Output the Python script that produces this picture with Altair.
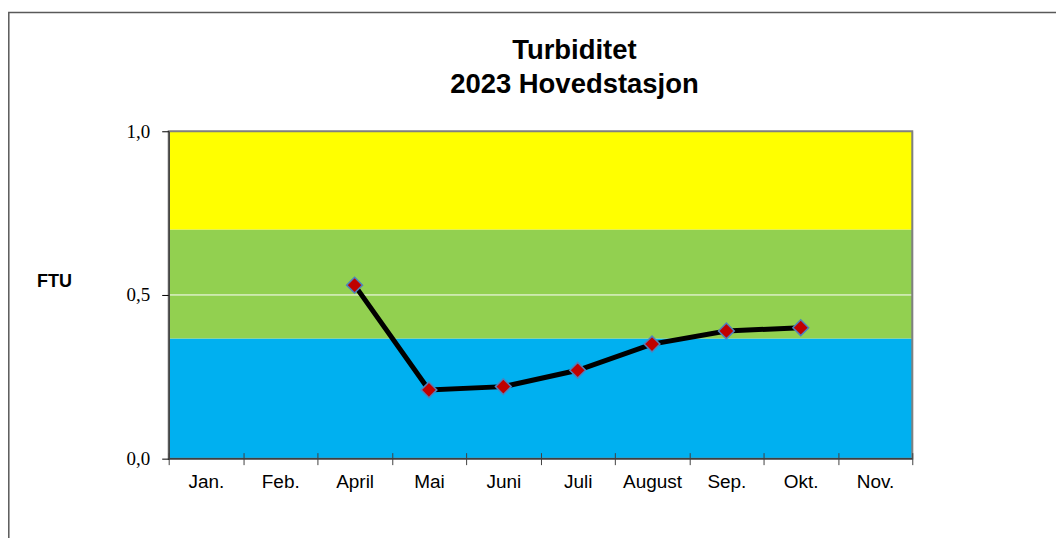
import altair as alt
import pandas as pd

months = ["Jan.", "Feb.", "April", "Mai", "Juni", "Juli", "August", "Sep.", "Okt.", "Nov."]
measured_months = ["April", "Mai", "Juni", "Juli", "August", "Sep.", "Okt."]
ftu_values = [0.53, 0.21, 0.22, 0.27, 0.35, 0.39, 0.40]

band_low = [0.0, 0.367, 0.70]
band_high = [0.367, 0.70, 1.0]
band_colors = ["#00B0F0", "#92D050", "#FFFF00"]

grid_values = [0.5]
y_ticks = [0.0, 0.5, 1.0]

title_line1 = "Turbiditet"
title_line2 = "2023 Hovedstasjon"

W, H = 745, 328

df = pd.DataFrame({"month": measured_months, "ftu": ftu_values})
bands = pd.DataFrame({"lo": band_low, "hi": band_high, "color": band_colors})
grid = pd.DataFrame({"g": grid_values})

xscale = alt.Scale(domain=months, paddingInner=0, paddingOuter=0)
yscale = alt.Scale(domain=[0, 1], nice=False)

band_layer = alt.Chart(bands).mark_rect().encode(
    x=alt.value(0), x2=alt.value(W),
    y=alt.Y("lo:Q", scale=yscale,
            axis=alt.Axis(values=y_ticks, grid=False, title="FTU",
                          labelExpr="replace(format(datum.value, '.1f'), '.', ',')",
                          labelFont="Liberation Serif", labelFontSize=19, labelColor="black",
                          labelPadding=12, tickSize=7, tickColor="black",
                          domainColor="#404040", domainWidth=1.5, zindex=1,
                          titleAngle=0, titleX=-115, titleY=151, titleAlign="center",
                          titleBaseline="middle", titleFont="Liberation Sans",
                          titleFontSize=18, titleFontWeight="bold", titleColor="black")),
    y2="hi:Q",
    color=alt.Color("color:N", scale=None),
)

grid_layer = alt.Chart(grid).mark_rule(color="white", strokeWidth=1).encode(
    y=alt.Y("g:Q", scale=yscale), x=alt.value(0), x2=alt.value(W)
)

frame = alt.Chart(grid).mark_rect(fillOpacity=0, stroke="#808080", strokeWidth=2).encode(
    x=alt.value(0), x2=alt.value(W), y=alt.value(0), y2=alt.value(H)
)

bottom = alt.Chart(grid).mark_rule(color="#404040", strokeWidth=1.5).encode(
    x=alt.value(0), x2=alt.value(W), y=alt.value(H)
)

line = alt.Chart(df).mark_line(color="black", strokeWidth=5, interpolate="linear").encode(
    x=alt.X("month:N", scale=xscale, sort=months,
            axis=alt.Axis(title=None, labelAngle=0, tickBand="extent", tickSize=12,
                          offset=-6, domain=False, tickColor="#404040", tickWidth=1,
                          labelFont="Liberation Sans", labelFontSize=19, labelColor="black",
                          labelPadding=8, zindex=1)),
    y=alt.Y("ftu:Q", scale=yscale),
)

points = alt.Chart(df).mark_point(shape="diamond", filled=True, fill="#C00000",
                                  stroke="#4F81BD", strokeWidth=1.5, size=250, opacity=1).encode(
    x=alt.X("month:N", scale=xscale, sort=months),
    y=alt.Y("ftu:Q", scale=yscale),
)

outer = alt.Chart(grid).mark_rect(fillOpacity=0, stroke="#595959", strokeWidth=1.5).encode(
    x=alt.value(-160.2), x2=alt.value(W + 300), y=alt.value(-119), y2=alt.value(H + 300)
)

title_style = dict(font="Liberation Sans", fontSize=27.5, fontWeight="bold", color="black",
                   align="center", baseline="alphabetic")
t1 = alt.Chart(grid).mark_text(**title_style).encode(
    x=alt.value(406.5), y=alt.value(-72), text=alt.value(title_line1))
t2 = alt.Chart(grid).mark_text(**title_style).encode(
    x=alt.value(406.5), y=alt.value(-38.5), text=alt.value(title_line2))

chart = alt.layer(band_layer, grid_layer, frame, bottom, line, points, outer, t1, t2).properties(
    width=W, height=H,
    autosize=alt.AutoSizeParams(type="none"),
    padding={"left": 161, "top": 123, "right": 144, "bottom": 79},
).configure_view(strokeWidth=0).configure(background="white")

chart.save("out.html", embed_options={"renderer": "svg", "actions": False})
